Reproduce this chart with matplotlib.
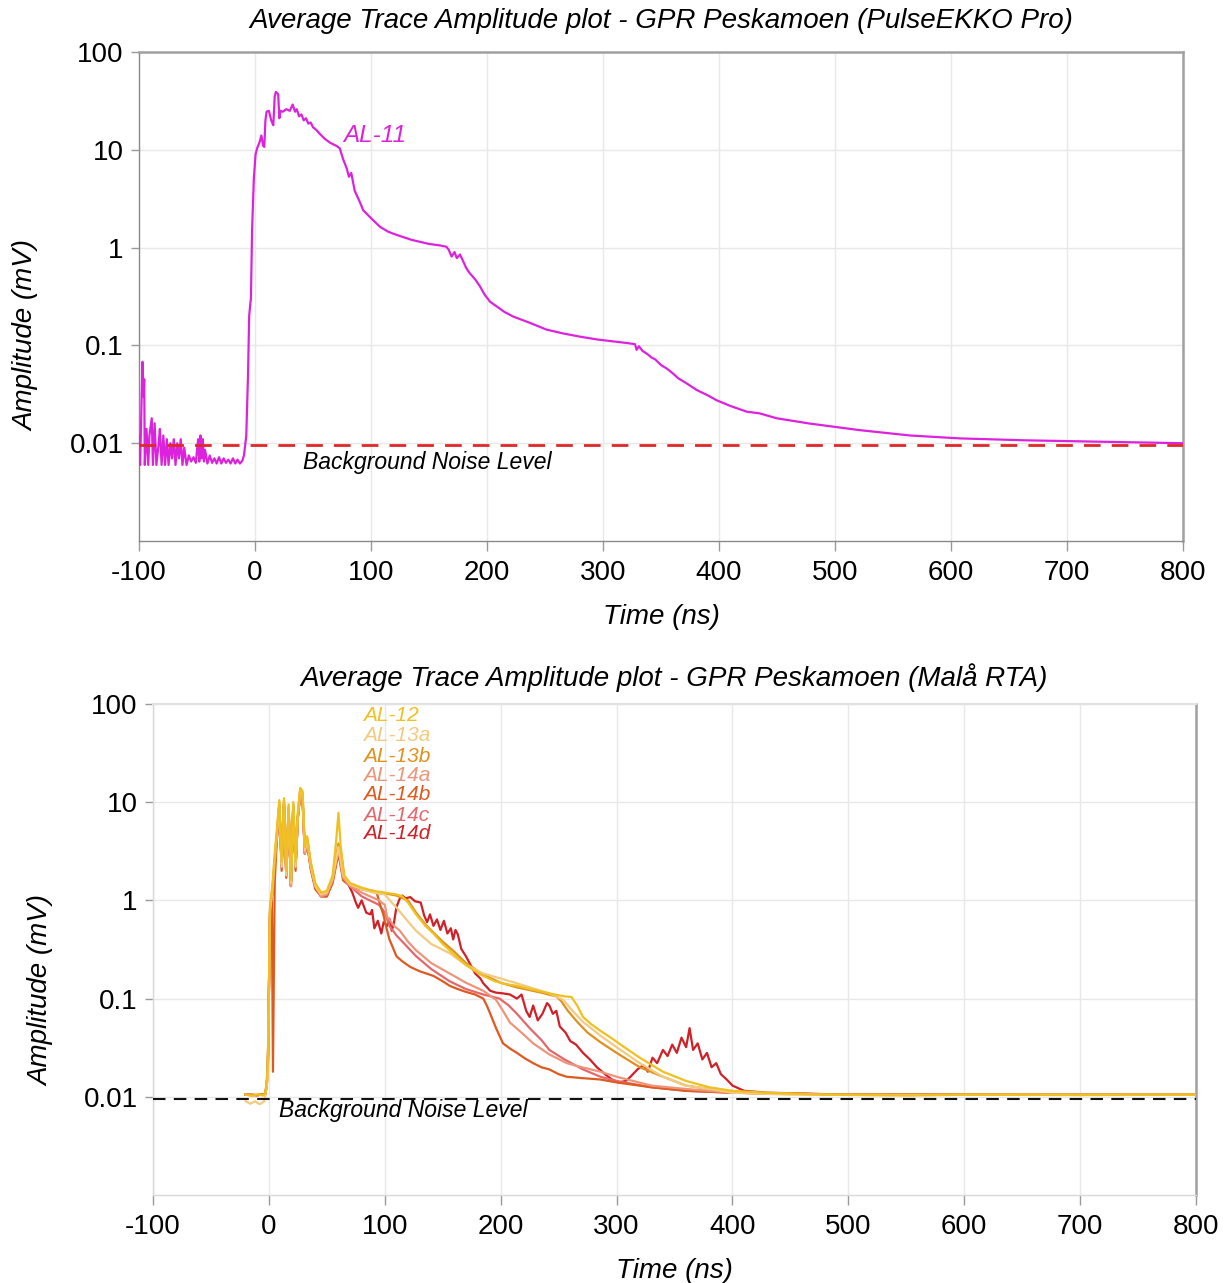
import matplotlib
matplotlib.use("Agg")
import matplotlib.pyplot as plt
from matplotlib.ticker import FixedLocator, NullLocator

plt.rcParams['font.family'] = ['Liberation Sans', 'DejaVu Sans']

# ---- top panel: PulseEKKO Pro, line AL-11 ----
al11_t = [-100, -99, -98, -97, -96, -95.5, -95, -93.5, -92, -91, -89, -88, -86.5, -85, -83, -82,
          -80.5, -79, -77.5, -76, -74.5, -73, -71.5, -70, -68.5, -67, -65.5, -64, -62.5, -61, -59,
          -57, -55, -53, -51, -49, -48, -47, -46, -45, -44, -43, -41, -39, -37, -35, -33, -31, -29,
          -27, -25, -23, -21, -19, -17, -15, -13, -11, -9.5, -8.5, -7.5, -6, -5, -4, -3.5, -2.5, -1,
          0.5, 2, 4, 5.5, 7, 8, 9, 10, 12, 14, 15.8, 17, 18, 20, 21, 22, 24, 27, 30, 32.5, 34.5, 36,
          38, 40, 42, 44, 46, 48, 50, 53, 56, 60, 64.7, 70, 73, 76, 79, 81, 83, 86, 90, 93.4, 100,
          107.8, 115, 122, 135, 150, 160, 165, 167, 169.5, 172, 174, 176.7, 179.6, 182, 185, 190,
          194, 198, 202.6, 208.4, 215, 222.7, 237, 251.4, 265, 280, 295, 308.9, 320, 327.6, 329,
          331, 334, 338, 342, 345, 350, 355, 360, 365, 372, 380.8, 390, 398, 410, 424, 435, 449.7,
          478, 521.5, 564.6, 607.8, 665, 722.6, 800]
al11_v = [0.012, 0.006, 0.02, 0.068, 0.03, 0.045, 0.006, 0.014, 0.006, 0.012, 0.018, 0.006, 0.016,
          0.006, 0.01, 0.014, 0.006, 0.012, 0.006, 0.011, 0.006, 0.01, 0.007, 0.011, 0.006, 0.01,
          0.007, 0.011, 0.006, 0.009, 0.006, 0.0075, 0.0065, 0.0072, 0.0063, 0.011, 0.0065, 0.012,
          0.007, 0.011, 0.0065, 0.0085, 0.0062, 0.0075, 0.0063, 0.007, 0.0062, 0.0072, 0.0062,
          0.007, 0.0063, 0.0068, 0.0062, 0.007, 0.0062, 0.0068, 0.0062, 0.0066, 0.0075, 0.0095,
          0.012, 0.05, 0.2, 0.27, 0.3, 1.5, 5, 9, 10.5, 12, 14, 11, 10.7, 20, 24.5, 25, 20, 17.8, 35,
          39, 37, 21, 25, 24.5, 26, 25, 29, 24.5, 26, 22, 23, 20, 21, 18.5, 19, 17, 15.9, 14.5, 13,
          11.8, 11, 10.4, 8, 6.5, 5.3, 5.8, 3.8, 3, 2.4, 2, 1.63, 1.45, 1.35, 1.2, 1.09, 1.05, 1.02,
          0.95, 0.81, 0.9, 0.78, 0.85, 0.72, 0.62, 0.55, 0.47, 0.4, 0.33, 0.28, 0.25, 0.22, 0.197,
          0.17, 0.145, 0.133, 0.123, 0.115, 0.11, 0.106, 0.103, 0.09, 0.098, 0.088, 0.082, 0.075,
          0.072, 0.063, 0.058, 0.052, 0.046, 0.041, 0.035, 0.031, 0.0275, 0.024, 0.021, 0.0202,
          0.018, 0.0159, 0.0136, 0.012, 0.0112, 0.0107, 0.0104, 0.0100]

# ---- bottom panel: Mala RTA lines ----
al12_t = [-20, -15, -10, -5, -3, -1, 1, 3, 5, 7, 9, 11, 13, 15, 17, 19, 21, 23, 25, 27, 29, 31, 33,
          36, 40, 45, 50, 55, 58, 60, 62, 65, 70, 80, 90, 100, 110, 115, 120, 127, 135, 142, 150,
          156, 163, 170, 178, 185, 195, 205, 214, 225, 235, 242, 250, 256, 261, 266, 271, 278, 286,
          295, 305, 320, 340, 360, 380, 400, 430, 480, 550, 600, 700, 800]
al12_v = [0.0105, 0.0102, 0.0106, 0.0103, 0.0108, 0.02, 0.9, 1.4, 3.0, 5.5, 10.5, 2.5, 11, 2, 9.5,
          1.6, 10, 2.5, 8, 14, 13, 3.5, 4.5, 2.5, 1.5, 1.2, 1.25, 1.8, 4, 7.8, 3.5, 1.8, 1.5, 1.35,
          1.25, 1.2, 1.15, 1.1, 0.95, 0.72, 0.55, 0.46, 0.36, 0.31, 0.26, 0.22, 0.19, 0.17, 0.15,
          0.14, 0.135, 0.125, 0.118, 0.113, 0.108, 0.105, 0.104, 0.085, 0.065, 0.055, 0.047, 0.04,
          0.033, 0.025, 0.018, 0.0145, 0.0125, 0.0115, 0.011, 0.0105, 0.0103, 0.0105, 0.0104, 0.0105]

al13a_t = [-20, -16, -12, -8, -4, -1, 1, 3, 5, 7, 9, 11, 13, 15, 17, 19, 21, 23, 25, 27, 29, 31, 33,
           36, 40, 45, 50, 55, 60, 64, 70, 80, 90, 100, 106, 110, 118, 127, 140, 156, 170, 185, 200,
           214, 230, 242, 254, 262, 271, 286, 300, 320, 340, 360, 380, 400, 450, 550, 650, 800]
al13a_v = [0.009, 0.0085, 0.009, 0.0084, 0.009, 0.015, 0.8, 1.3, 2.8, 5, 9.5, 2.2, 10, 1.8, 9,
           1.5, 9.5, 2.2, 7.5, 13, 12, 3.2, 4.2, 2.3, 1.4, 1.15, 1.2, 1.7, 3.5, 1.8, 1.45, 1.3, 1.2,
           1.15, 0.95, 0.85, 0.65, 0.49, 0.36, 0.29, 0.22, 0.18, 0.16, 0.143, 0.125, 0.113, 0.097,
           0.075, 0.058, 0.042, 0.032, 0.022, 0.016, 0.013, 0.012, 0.011, 0.0105, 0.0104, 0.0105,
           0.0105]

al13b_t = [-20, -10, -3, -1, 1, 3, 5, 7, 9, 11, 13, 15, 17, 19, 21, 23, 25, 27, 29, 31, 33, 36, 40,
           45, 50, 55, 60, 64, 70, 80, 90, 100, 110, 120, 127, 135, 142, 150, 160, 170, 185, 200,
           214, 235, 248, 252, 258, 266, 275, 286, 300, 320, 340, 360, 380, 400, 500, 600, 800]
al13b_v = [0.0105, 0.0104, 0.0107, 0.018, 0.85, 1.3, 2.5, 5, 10, 2.3, 10.5, 1.9, 9, 1.5, 9.5, 2.3,
           7.5, 13.5, 12.5, 3.3, 4.3, 2.4, 1.45, 1.2, 1.2, 1.7, 3.8, 1.8, 1.45, 1.3, 1.22, 1.18,
           1.12, 1.0, 0.75, 0.57, 0.47, 0.38, 0.3, 0.23, 0.175, 0.145, 0.13, 0.115, 0.105, 0.095,
           0.075, 0.058, 0.045, 0.036, 0.028, 0.02, 0.016, 0.013, 0.012, 0.011, 0.0105, 0.0105,
           0.0105]

al14a_t = [-20, -10, -3, -1, 1, 3, 5, 7, 9, 11, 13, 15, 17, 19, 21, 23, 25, 27, 29, 31, 33, 36, 40,
           45, 50, 55, 60, 64, 70, 80, 95, 100, 102, 108, 113, 120, 127, 140, 156, 170, 185, 196,
           202, 208, 218, 228, 242, 257, 270, 286, 300, 330, 360, 400, 500, 800]
al14a_v = [0.0105, 0.0104, 0.0106, 0.017, 0.8, 1.2, 2.4, 4.5, 9, 2.2, 9.5, 1.8, 8.5, 1.4, 9, 2.2,
           7, 12, 11, 3.0, 4.0, 2.2, 1.4, 1.1, 1.15, 1.6, 3.3, 1.7, 1.4, 1.2, 1.0, 0.9, 0.68, 0.55,
           0.49, 0.38, 0.31, 0.23, 0.18, 0.145, 0.12, 0.097, 0.075, 0.057, 0.045, 0.035, 0.027,
           0.022, 0.02, 0.018, 0.016, 0.013, 0.012, 0.011, 0.0105, 0.0105]

al14b_t = [-20, -10, -3, -1, 1, 2.5, 3.5, 5, 7, 9, 11, 13, 15, 17, 19, 21, 23, 25, 27, 29, 31, 33,
           36, 40, 45, 50, 55, 60, 64, 70, 80, 90, 93, 96, 98.7, 101, 104, 107, 110, 115, 122, 130,
           142, 150, 156, 163, 170, 178, 185, 188, 191, 196, 202, 208, 214, 220, 228, 235, 242, 250,
           257, 270, 286, 300, 330, 360, 400, 500, 800]
al14b_v = [0.0105, 0.0104, 0.0106, 0.016, 0.7, 1.0, 0.018, 1.5, 4.5, 9.5, 2.0, 10, 1.7, 8.5, 1.4,
           9, 2.0, 7, 12.5, 11, 3.0, 3.8, 2.1, 1.3, 1.1, 1.1, 1.5, 3.0, 1.6, 1.4, 1.3, 1.25, 1.2,
           0.9, 0.72, 0.55, 0.40, 0.33, 0.27, 0.24, 0.21, 0.19, 0.17, 0.15, 0.135, 0.125, 0.117,
           0.11, 0.10, 0.085, 0.07, 0.05, 0.035, 0.031, 0.028, 0.025, 0.022, 0.02, 0.019, 0.017,
           0.016, 0.0155, 0.015, 0.014, 0.0125, 0.0115, 0.011, 0.0105, 0.0105]

al14c_t = [-20, -10, -3, -1, 1, 3, 5, 7, 9, 11, 13, 15, 17, 19, 21, 23, 25, 27, 29, 31, 33, 36, 40,
           45, 50, 55, 60, 64, 70, 80, 95, 100, 104, 110, 118, 127, 140, 156, 170, 185, 199, 207,
           214, 225, 235, 242, 255, 271, 286, 300, 330, 360, 400, 500, 800]
al14c_v = [0.0105, 0.0104, 0.0106, 0.017, 0.8, 1.2, 2.4, 4.5, 9, 2.2, 9.5, 1.8, 8.5, 1.4, 9, 2.2,
           7, 12, 11, 3.0, 4.0, 2.2, 1.4, 1.1, 1.15, 1.6, 3.3, 1.7, 1.4, 1.1, 0.9, 0.75, 0.55,
           0.44, 0.35, 0.27, 0.2, 0.15, 0.125, 0.11, 0.1, 0.085, 0.07, 0.05, 0.038, 0.03, 0.024,
           0.019, 0.016, 0.0145, 0.0125, 0.0115, 0.011, 0.0105, 0.0105]

al14d_t = [-20, -10, -3, -1, 1, 3, 5, 7, 9, 11, 13, 15, 17, 19, 21, 23, 25, 27, 29, 31, 33, 36, 40,
           45, 50, 55, 60, 62, 65, 68, 72, 75, 77, 80, 84, 87.5, 89, 91, 94, 97, 99, 102, 104, 106,
           108, 110, 113, 115, 118, 122, 126, 131, 134, 136.5, 139, 142, 145, 148, 151, 154, 157,
           159, 161, 163, 166, 170, 174, 178, 182.5, 185, 191, 196, 202, 208, 214, 218, 222, 225,
           228, 232, 236, 240, 242, 245, 248, 251, 256, 260, 265, 271, 277, 283, 290, 296, 302,
           308, 312, 318, 323, 327, 331, 335, 340, 344, 348, 352, 356, 360, 363, 366, 370, 374,
           378, 382, 386, 390, 395, 400, 410, 430, 500, 800]
al14d_v = [0.0105, 0.0104, 0.0106, 0.017, 0.8, 1.2, 2.4, 4.5, 9, 2.2, 9.5, 1.8, 8.5, 1.4, 9, 2.2,
           7, 12, 11, 3.0, 4.0, 2.2, 1.4, 1.1, 1.1, 1.6, 3.4, 3.2, 1.7, 1.5, 1.2, 0.95, 0.84, 1.0,
           0.75, 0.72, 0.8, 0.52, 0.62, 0.46, 0.6, 0.55, 0.65, 0.49, 0.6, 0.85, 1.05, 1.12, 1.05,
           1.08, 0.98, 0.95, 0.7, 0.6, 0.72, 0.55, 0.64, 0.5, 0.62, 0.46, 0.52, 0.40, 0.5, 0.45,
           0.32, 0.27, 0.22, 0.18, 0.16, 0.143, 0.12, 0.115, 0.113, 0.11, 0.10, 0.11, 0.075, 0.065,
           0.085, 0.06, 0.07, 0.09, 0.085, 0.07, 0.075, 0.052, 0.045, 0.037, 0.034, 0.028, 0.024,
           0.02, 0.017, 0.015, 0.014, 0.0145, 0.016, 0.019, 0.021, 0.018, 0.025, 0.022, 0.03, 0.026,
           0.034, 0.028, 0.04, 0.032, 0.05, 0.03, 0.035, 0.024, 0.028, 0.02, 0.022, 0.017, 0.015,
           0.013, 0.0115, 0.011, 0.0105, 0.0105]

bottom_names = ["AL-12", "AL-13a", "AL-13b", "AL-14a", "AL-14b", "AL-14c", "AL-14d"]
bottom_colors = ["#F0C020", "#F2CA80", "#E0901E", "#EE9479", "#DE5A1E", "#E5676C", "#D02028"]
bottom_t = [al12_t, al13a_t, al13b_t, al14a_t, al14b_t, al14c_t, al14d_t]
bottom_v = [al12_v, al13a_v, al13b_v, al14a_v, al14b_v, al14c_v, al14d_v]
label_y = [75.5, 47.5, 29.5, 18.8, 11.9, 7.4, 4.75]

noise_level = 0.0095
ytick_vals = [0.01, 0.1, 1, 10, 100]
ytick_text = ["0.01", "0.1", "1", "10", "100"]
xtick_vals = [-100, 0, 100, 200, 300, 400, 500, 600, 700, 800]

fig = plt.figure(figsize=(12.31, 12.83), dpi=100)
ax1 = fig.add_axes([0.1129, 0.5783, 0.8481, 0.3812])
ax2 = fig.add_axes([0.1243, 0.0686, 0.8473, 0.3827])


def style_axis(ax, title, edge_col, far_col, ylab_x, ylab_y, title_pad):
    ax.set_yscale('log')
    ax.set_xlim(-100, 800)
    ax.set_ylim(0.001, 100)
    ax.yaxis.set_major_locator(FixedLocator(ytick_vals))
    ax.yaxis.set_minor_locator(NullLocator())
    ax.set_yticklabels(ytick_text)
    ax.set_xticks(xtick_vals)
    ax.set_xticklabels([str(v) for v in xtick_vals])
    ax.grid(True, color="#E8E8E8", linewidth=1.0)
    ax.set_axisbelow(True)
    ax.tick_params(axis='x', labelsize=20, colors="#999999", labelcolor="black",
                   length=7, width=1.0, pad=7)
    ax.tick_params(axis='y', labelsize=20, colors="#999999", labelcolor="black",
                   length=6, width=1.0, pad=5)
    ax.spines['left'].set_color(edge_col)
    ax.spines['bottom'].set_color(edge_col)
    ax.spines['top'].set_color(far_col)
    ax.spines['right'].set_color("#A0A0A0")
    ax.spines['right'].set_linewidth(1.8)
    ax.spines['left'].set_linewidth(1.0)
    ax.spines['bottom'].set_linewidth(1.0)
    ax.set_title(title, fontsize=20, style='italic', pad=title_pad)
    ax.set_xlabel("Time (ns)", fontsize=20, style='italic')
    ax.xaxis.set_label_coords(0.5, -0.129)
    ax.set_ylabel("Amplitude (mV)", fontsize=20, style='italic')
    ax.yaxis.set_label_coords(ylab_x, ylab_y)


style_axis(ax1, "Average Trace Amplitude plot - GPR Peskamoen (PulseEKKO Pro)",
           "#8A8A8A", "#A0A0A0", -0.095, 0.42, 17)
ax1.spines['top'].set_linewidth(1.8)
ax1.plot(al11_t, al11_v, color="#DD22DD", linewidth=1.6, zorder=3)
ax1.axhline(noise_level, color="#E02828", linestyle=(0, (6, 4)), linewidth=2.0, zorder=4)
ax1.text(76, 14, "AL-11", color="#DD22DD", fontsize=17.5, style='italic', va='center', ha='left')
ax1.text(41.5, 0.0063, "Background Noise Level", fontsize=16.5, style='italic',
         va='center', ha='left')

style_axis(ax2, "Average Trace Amplitude plot - GPR Peskamoen (Malå RTA)",
           "#D8D8D8", "#E2E2E2", -0.095, 0.417, 13)
ax2.spines['top'].set_linewidth(1.5)
for t, v, c in reversed(list(zip(bottom_t, bottom_v, bottom_colors))):
    ax2.plot(t, v, color=c, linewidth=1.6, zorder=3)
ax2.axhline(noise_level, color="#111111", linestyle=(0, (6, 4)), linewidth=1.5, zorder=4)
for name, c, ly in zip(bottom_names, bottom_colors, label_y):
    ax2.text(81, ly, name, color=c, fontsize=15, style='italic', va='center', ha='left')
ax2.text(8.7, 0.0072, "Background Noise Level", fontsize=16.5, style='italic',
         va='center', ha='left')

fig.savefig("out.png", dpi=100)
